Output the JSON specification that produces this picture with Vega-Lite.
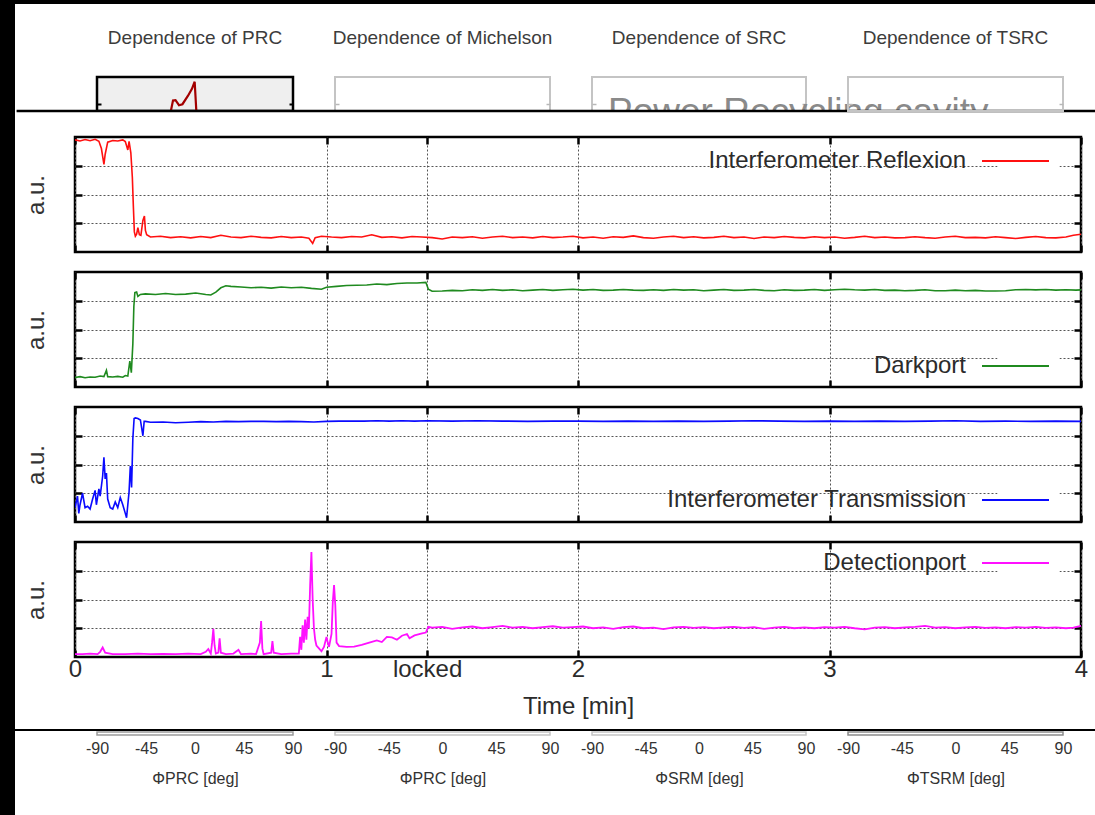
{
  "$schema": "https://vega.github.io/schema/vega-lite/v6.json",
  "padding": 0,
  "background": "#ffffff",
  "spacing": 0,
  "config": {
    "font": "Liberation Sans",
    "view": {"stroke": null},
    "axis": {"labelFont": "Liberation Sans", "titleFont": "Liberation Sans", "titleFontWeight": "normal"},
    "title": {"font": "Liberation Sans", "fontSize": 19, "fontWeight": "normal", "color": "#3c3c3c", "baseline": "bottom", "offset": 29, "anchor": "middle", "frame": "group"},
    "legend": {"labelFont": "Liberation Sans", "labelFontSize": 24, "labelColor": "#2b2b2b", "labelLimit": 500, "labelAlign": "right", "labelOffset": -61.5, "symbolType": "M-6.7,0H6.7", "symbolSize": 100, "symbolStrokeWidth": 2, "fillColor": "#ffffff", "padding": 6, "orient": "none"}
  },
  "datasets": {
    "prc": [
      {"phi": -40, "v": -0.5}, {"phi": -22.5, "v": -0.05}, {"phi": -20.2, "v": 0.31}, {"phi": -17.9, "v": 0.32},
      {"phi": -14.7, "v": 0.17}, {"phi": -11.5, "v": 0.2}, {"phi": -6.4, "v": 0.45}, {"phi": -2.8, "v": 0.65},
      {"phi": -0.3, "v": 0.86}, {"phi": 1.4, "v": -0.1}, {"phi": 9, "v": -0.5}
    ],
    "refl": [
      {"t":0,"v":3.9},{"t":0.02,"v":3.86},{"t":0.04,"v":3.91},{"t":0.06,"v":3.87},{"t":0.08,"v":3.92},{"t":0.095,"v":3.85},
      {"t":0.105,"v":3.6},{"t":0.115,"v":3.05},{"t":0.12,"v":3.4},{"t":0.13,"v":3.82},{"t":0.15,"v":3.88},{"t":0.17,"v":3.86},
      {"t":0.19,"v":3.9},{"t":0.2,"v":3.84},{"t":0.21,"v":3.55},{"t":0.215,"v":3.85},{"t":0.222,"v":3.45},{"t":0.228,"v":2.6},
      {"t":0.232,"v":1.6},{"t":0.236,"v":0.7},{"t":0.24,"v":0.55},{"t":0.245,"v":0.62},{"t":0.25,"v":0.85},{"t":0.256,"v":0.6},
      {"t":0.262,"v":0.58},{"t":0.27,"v":1.1},{"t":0.276,"v":1.25},{"t":0.28,"v":0.75},{"t":0.285,"v":0.6},{"t":0.3,"v":0.52},
      {"t":0.34,"v":0.55},{"t":0.38,"v":0.5},{"t":0.42,"v":0.53},{"t":0.46,"v":0.49},{"t":0.5,"v":0.54},{"t":0.54,"v":0.5},
      {"t":0.58,"v":0.58},{"t":0.62,"v":0.52},{"t":0.66,"v":0.5},{"t":0.7,"v":0.55},{"t":0.74,"v":0.51},{"t":0.78,"v":0.49},
      {"t":0.82,"v":0.54},{"t":0.86,"v":0.5},{"t":0.9,"v":0.52},{"t":0.93,"v":0.48},{"t":0.945,"v":0.3},{"t":0.955,"v":0.5},
      {"t":0.98,"v":0.55},{"t":1.02,"v":0.52},{"t":1.06,"v":0.5},{"t":1.1,"v":0.54},{"t":1.14,"v":0.52},{"t":1.18,"v":0.6},
      {"t":1.22,"v":0.51},{"t":1.26,"v":0.53},{"t":1.3,"v":0.49},{"t":1.34,"v":0.54},{"t":1.38,"v":0.52},{"t":1.42,"v":0.5},
      {"t":1.46,"v":0.45},{"t":1.5,"v":0.52},{"t":1.54,"v":0.5},{"t":1.58,"v":0.53},{"t":1.62,"v":0.48},{"t":1.66,"v":0.52},
      {"t":1.7,"v":0.55},{"t":1.74,"v":0.5},{"t":1.78,"v":0.52},{"t":1.82,"v":0.49},{"t":1.86,"v":0.54},{"t":1.9,"v":0.5},
      {"t":1.94,"v":0.52},{"t":1.98,"v":0.55},{"t":2.02,"v":0.49},{"t":2.06,"v":0.52},{"t":2.1,"v":0.48},{"t":2.14,"v":0.53},
      {"t":2.18,"v":0.51},{"t":2.22,"v":0.56},{"t":2.26,"v":0.5},{"t":2.3,"v":0.48},{"t":2.34,"v":0.52},{"t":2.38,"v":0.55},
      {"t":2.42,"v":0.5},{"t":2.46,"v":0.53},{"t":2.5,"v":0.49},{"t":2.54,"v":0.51},{"t":2.58,"v":0.55},{"t":2.62,"v":0.5},
      {"t":2.66,"v":0.52},{"t":2.7,"v":0.47},{"t":2.74,"v":0.52},{"t":2.78,"v":0.5},{"t":2.82,"v":0.54},{"t":2.86,"v":0.51},
      {"t":2.9,"v":0.49},{"t":2.94,"v":0.53},{"t":2.98,"v":0.5},{"t":3.02,"v":0.52},{"t":3.06,"v":0.48},{"t":3.1,"v":0.51},
      {"t":3.14,"v":0.55},{"t":3.18,"v":0.5},{"t":3.22,"v":0.52},{"t":3.26,"v":0.49},{"t":3.3,"v":0.5},{"t":3.34,"v":0.53},
      {"t":3.38,"v":0.5},{"t":3.42,"v":0.48},{"t":3.46,"v":0.52},{"t":3.5,"v":0.55},{"t":3.54,"v":0.5},{"t":3.58,"v":0.51},
      {"t":3.62,"v":0.49},{"t":3.66,"v":0.53},{"t":3.7,"v":0.5},{"t":3.74,"v":0.47},{"t":3.78,"v":0.51},{"t":3.82,"v":0.54},
      {"t":3.86,"v":0.5},{"t":3.9,"v":0.49},{"t":3.94,"v":0.52},{"t":3.97,"v":0.58},{"t":4.0,"v":0.62}
    ],
    "dark": [
      {"t":0,"v":0.33},{"t":0.02,"v":0.36},{"t":0.04,"v":0.32},{"t":0.06,"v":0.35},{"t":0.08,"v":0.34},{"t":0.1,"v":0.38},
      {"t":0.115,"v":0.36},{"t":0.125,"v":0.58},{"t":0.13,"v":0.36},{"t":0.15,"v":0.35},{"t":0.17,"v":0.37},{"t":0.19,"v":0.34},
      {"t":0.2,"v":0.4},{"t":0.21,"v":0.38},{"t":0.218,"v":0.9},{"t":0.224,"v":0.5},{"t":0.23,"v":1.5},{"t":0.234,"v":2.8},
      {"t":0.238,"v":3.28},{"t":0.245,"v":3.3},{"t":0.25,"v":3.15},{"t":0.26,"v":3.22},{"t":0.28,"v":3.24},{"t":0.32,"v":3.22},
      {"t":0.36,"v":3.25},{"t":0.4,"v":3.22},{"t":0.44,"v":3.23},{"t":0.48,"v":3.27},{"t":0.52,"v":3.22},{"t":0.54,"v":3.2},
      {"t":0.56,"v":3.3},{"t":0.58,"v":3.45},{"t":0.6,"v":3.52},{"t":0.62,"v":3.5},{"t":0.66,"v":3.48},{"t":0.7,"v":3.45},
      {"t":0.74,"v":3.47},{"t":0.78,"v":3.44},{"t":0.82,"v":3.48},{"t":0.86,"v":3.45},{"t":0.9,"v":3.47},{"t":0.94,"v":3.43},
      {"t":0.98,"v":3.4},{"t":1.0,"v":3.47},{"t":1.04,"v":3.5},{"t":1.08,"v":3.53},{"t":1.12,"v":3.54},{"t":1.16,"v":3.55},
      {"t":1.2,"v":3.58},{"t":1.24,"v":3.56},{"t":1.28,"v":3.6},{"t":1.32,"v":3.62},{"t":1.36,"v":3.62},{"t":1.395,"v":3.64},
      {"t":1.405,"v":3.4},{"t":1.42,"v":3.33},{"t":1.46,"v":3.34},{"t":1.5,"v":3.36},{"t":1.54,"v":3.35},{"t":1.58,"v":3.38},
      {"t":1.62,"v":3.36},{"t":1.66,"v":3.39},{"t":1.7,"v":3.36},{"t":1.74,"v":3.38},{"t":1.78,"v":3.35},{"t":1.82,"v":3.37},
      {"t":1.86,"v":3.39},{"t":1.9,"v":3.36},{"t":1.94,"v":3.38},{"t":1.98,"v":3.4},{"t":2.02,"v":3.37},{"t":2.06,"v":3.39},
      {"t":2.1,"v":3.36},{"t":2.14,"v":3.37},{"t":2.18,"v":3.39},{"t":2.22,"v":3.37},{"t":2.26,"v":3.36},{"t":2.3,"v":3.38},
      {"t":2.34,"v":3.36},{"t":2.38,"v":3.39},{"t":2.42,"v":3.37},{"t":2.46,"v":3.38},{"t":2.5,"v":3.35},{"t":2.54,"v":3.37},
      {"t":2.58,"v":3.39},{"t":2.62,"v":3.36},{"t":2.66,"v":3.37},{"t":2.7,"v":3.39},{"t":2.74,"v":3.36},{"t":2.78,"v":3.35},
      {"t":2.82,"v":3.38},{"t":2.86,"v":3.36},{"t":2.9,"v":3.37},{"t":2.94,"v":3.39},{"t":2.98,"v":3.36},{"t":3.02,"v":3.38},
      {"t":3.06,"v":3.4},{"t":3.1,"v":3.38},{"t":3.14,"v":3.37},{"t":3.18,"v":3.39},{"t":3.22,"v":3.36},{"t":3.26,"v":3.37},
      {"t":3.3,"v":3.35},{"t":3.34,"v":3.36},{"t":3.38,"v":3.38},{"t":3.42,"v":3.35},{"t":3.46,"v":3.35},{"t":3.5,"v":3.37},
      {"t":3.54,"v":3.35},{"t":3.58,"v":3.36},{"t":3.62,"v":3.34},{"t":3.66,"v":3.34},{"t":3.7,"v":3.35},{"t":3.74,"v":3.38},
      {"t":3.78,"v":3.39},{"t":3.82,"v":3.38},{"t":3.86,"v":3.39},{"t":3.9,"v":3.37},{"t":3.94,"v":3.38},{"t":3.98,"v":3.37},
      {"t":4.0,"v":3.38}
    ],
    "trans": [
      {"t":0,"v":0.5},{"t":0.01,"v":0.9},{"t":0.015,"v":0.3},{"t":0.02,"v":0.6},{"t":0.03,"v":1.0},{"t":0.04,"v":0.5},
      {"t":0.05,"v":0.55},{"t":0.06,"v":0.45},{"t":0.07,"v":0.8},{"t":0.08,"v":1.1},{"t":0.085,"v":0.6},{"t":0.095,"v":1.15},
      {"t":0.1,"v":0.9},{"t":0.11,"v":1.6},{"t":0.115,"v":2.25},{"t":0.12,"v":1.5},{"t":0.125,"v":1.7},{"t":0.13,"v":0.8},
      {"t":0.14,"v":0.5},{"t":0.15,"v":0.45},{"t":0.16,"v":0.7},{"t":0.17,"v":0.5},{"t":0.18,"v":0.85},{"t":0.19,"v":0.6},
      {"t":0.2,"v":0.3},{"t":0.205,"v":0.15},{"t":0.21,"v":0.6},{"t":0.215,"v":1.05},{"t":0.22,"v":1.95},{"t":0.225,"v":1.2},
      {"t":0.23,"v":2.9},{"t":0.235,"v":3.6},{"t":0.24,"v":3.62},{"t":0.25,"v":3.6},{"t":0.26,"v":3.55},{"t":0.27,"v":3.0},
      {"t":0.275,"v":3.5},{"t":0.28,"v":3.5},{"t":0.3,"v":3.47},{"t":0.35,"v":3.48},{"t":0.4,"v":3.45},{"t":0.45,"v":3.47},
      {"t":0.5,"v":3.49},{"t":0.55,"v":3.48},{"t":0.6,"v":3.5},{"t":0.65,"v":3.49},{"t":0.7,"v":3.5},{"t":0.75,"v":3.5},
      {"t":0.8,"v":3.49},{"t":0.85,"v":3.5},{"t":0.9,"v":3.49},{"t":0.95,"v":3.48},{"t":1.0,"v":3.5},{"t":1.05,"v":3.51},
      {"t":1.1,"v":3.51},{"t":1.15,"v":3.51},{"t":1.2,"v":3.52},{"t":1.25,"v":3.51},{"t":1.3,"v":3.52},{"t":1.35,"v":3.51},
      {"t":1.4,"v":3.52},{"t":1.5,"v":3.51},{"t":1.6,"v":3.52},{"t":1.7,"v":3.51},{"t":1.8,"v":3.5},{"t":1.9,"v":3.51},
      {"t":2.0,"v":3.51},{"t":2.1,"v":3.5},{"t":2.2,"v":3.51},{"t":2.3,"v":3.5},{"t":2.4,"v":3.51},{"t":2.5,"v":3.5},
      {"t":2.6,"v":3.51},{"t":2.7,"v":3.52},{"t":2.8,"v":3.51},{"t":2.9,"v":3.5},{"t":3.0,"v":3.51},{"t":3.1,"v":3.5},
      {"t":3.2,"v":3.51},{"t":3.3,"v":3.5},{"t":3.4,"v":3.51},{"t":3.5,"v":3.52},{"t":3.6,"v":3.5},{"t":3.7,"v":3.51},
      {"t":3.8,"v":3.5},{"t":3.9,"v":3.51},{"t":4.0,"v":3.5}
    ],
    "det": [
      {"t":0,"v":0.1},{"t":0.03,"v":0.1},{"t":0.06,"v":0.12},{"t":0.09,"v":0.1},{"t":0.1,"v":0.18},{"t":0.11,"v":0.33},
      {"t":0.12,"v":0.15},{"t":0.15,"v":0.1},{"t":0.2,"v":0.1},{"t":0.25,"v":0.12},{"t":0.3,"v":0.1},{"t":0.35,"v":0.11},
      {"t":0.4,"v":0.1},{"t":0.45,"v":0.12},{"t":0.5,"v":0.1},{"t":0.52,"v":0.18},{"t":0.53,"v":0.28},{"t":0.54,"v":0.12},
      {"t":0.545,"v":0.5},{"t":0.55,"v":0.98},{"t":0.555,"v":0.4},{"t":0.56,"v":0.12},{"t":0.57,"v":0.15},{"t":0.575,"v":0.65},
      {"t":0.58,"v":0.15},{"t":0.6,"v":0.1},{"t":0.63,"v":0.12},{"t":0.65,"v":0.25},{"t":0.66,"v":0.1},{"t":0.7,"v":0.12},
      {"t":0.72,"v":0.1},{"t":0.735,"v":0.5},{"t":0.74,"v":1.25},{"t":0.745,"v":0.3},{"t":0.75,"v":0.1},{"t":0.78,"v":0.15},
      {"t":0.785,"v":0.55},{"t":0.79,"v":0.15},{"t":0.82,"v":0.1},{"t":0.86,"v":0.12},{"t":0.89,"v":0.12},{"t":0.895,"v":0.7},
      {"t":0.9,"v":0.25},{"t":0.905,"v":1.1},{"t":0.91,"v":0.5},{"t":0.915,"v":1.3},{"t":0.92,"v":0.6},{"t":0.925,"v":1.4},
      {"t":0.93,"v":1.0},{"t":0.935,"v":2.5},{"t":0.94,"v":3.65},{"t":0.945,"v":2.0},{"t":0.95,"v":1.0},{"t":0.955,"v":0.6},
      {"t":0.96,"v":0.4},{"t":0.97,"v":0.3},{"t":0.98,"v":0.2},{"t":0.99,"v":0.35},{"t":1.0,"v":0.7},{"t":1.005,"v":0.5},
      {"t":1.01,"v":0.35},{"t":1.02,"v":0.8},{"t":1.025,"v":1.9},{"t":1.03,"v":2.5},{"t":1.035,"v":1.8},{"t":1.04,"v":0.5},
      {"t":1.05,"v":0.38},{"t":1.08,"v":0.35},{"t":1.11,"v":0.36},{"t":1.14,"v":0.42},{"t":1.17,"v":0.5},{"t":1.2,"v":0.58},
      {"t":1.22,"v":0.52},{"t":1.24,"v":0.7},{"t":1.26,"v":0.68},{"t":1.28,"v":0.6},{"t":1.3,"v":0.74},{"t":1.32,"v":0.8},
      {"t":1.33,"v":0.65},{"t":1.35,"v":0.75},{"t":1.38,"v":0.82},{"t":1.395,"v":0.85},{"t":1.405,"v":1.05},{"t":1.42,"v":1.02},
      {"t":1.46,"v":1.05},{"t":1.5,"v":0.98},{"t":1.54,"v":1.03},{"t":1.58,"v":1.06},{"t":1.62,"v":1.0},{"t":1.66,"v":1.04},
      {"t":1.7,"v":1.08},{"t":1.74,"v":1.02},{"t":1.78,"v":1.05},{"t":1.82,"v":1.0},{"t":1.86,"v":1.04},{"t":1.9,"v":1.07},
      {"t":1.94,"v":1.02},{"t":1.98,"v":1.04},{"t":2.02,"v":1.06},{"t":2.06,"v":1.0},{"t":2.1,"v":1.03},{"t":2.14,"v":0.98},
      {"t":2.18,"v":1.04},{"t":2.22,"v":1.06},{"t":2.26,"v":1.0},{"t":2.3,"v":1.02},{"t":2.34,"v":0.97},{"t":2.38,"v":1.03},
      {"t":2.42,"v":1.05},{"t":2.46,"v":1.01},{"t":2.5,"v":1.04},{"t":2.54,"v":1.0},{"t":2.58,"v":1.03},{"t":2.62,"v":1.05},
      {"t":2.66,"v":1.01},{"t":2.7,"v":1.04},{"t":2.74,"v":0.98},{"t":2.78,"v":1.02},{"t":2.82,"v":1.05},{"t":2.86,"v":1.0},
      {"t":2.9,"v":1.03},{"t":2.94,"v":1.0},{"t":2.98,"v":1.04},{"t":3.02,"v":1.02},{"t":3.06,"v":1.05},{"t":3.1,"v":1.0},
      {"t":3.14,"v":0.96},{"t":3.18,"v":1.02},{"t":3.22,"v":1.04},{"t":3.26,"v":1.0},{"t":3.3,"v":1.03},{"t":3.34,"v":1.05},
      {"t":3.38,"v":1.08},{"t":3.42,"v":1.02},{"t":3.46,"v":1.04},{"t":3.5,"v":1.0},{"t":3.54,"v":1.03},{"t":3.58,"v":1.05},
      {"t":3.62,"v":1.01},{"t":3.66,"v":1.03},{"t":3.7,"v":1.0},{"t":3.74,"v":1.04},{"t":3.78,"v":1.02},{"t":3.82,"v":1.05},
      {"t":3.86,"v":1.01},{"t":3.9,"v":1.03},{"t":3.94,"v":1.0},{"t":3.97,"v":1.02},{"t":4.0,"v":1.08}
    ]
  },
  "hconcat": [
    {"width": 15, "height": 815, "data": {"values": [{}]}, "mark": {"type": "rect", "color": "#000000"}, "view": {"fill": "#000000", "stroke": null}},
    {
      "spacing": 0,
      "vconcat": [
        {"width": 1080, "height": 4, "data": {"values": [{}]}, "mark": {"type": "rect", "color": "#000000"}, "view": {"fill": "#000000", "stroke": null}},
        {"width": 10, "height": 23, "data": {"values": [{}]}, "mark": {"type": "rect", "opacity": 0}},
        {
          "spacing": 42,
          "bounds": "flush",
          "hconcat": [
            {"width": 40, "height": 34, "data": {"values": [{}]}, "mark": {"type": "rect", "opacity": 0}},
            {
              "width": 196, "height": 34,
              "title": {"text": "Dependence of PRC"},
              "view": {"fill": "#efefef", "stroke": "#000000", "strokeWidth": 2.5},
              "data": {"name": "prc"},
              "layer": [
                {
                  "mark": {"type": "line", "color": "#a30000", "strokeWidth": 2.2, "clip": true},
                  "encoding": {
                    "x": {"field": "phi", "type": "quantitative", "scale": {"domain": [-90, 90], "nice": false},
                          "axis": {"orient": "top", "values": [-90, -45, 0, 45, 90], "labels": false, "title": null, "domain": false, "grid": false, "tickSize": -4, "tickWidth": 2, "tickColor": "#000000"}},
                    "y": {"field": "v", "type": "quantitative", "scale": {"domain": [0, 1], "nice": false, "zero": false},
                          "axis": {"values": [0.22], "labels": false, "title": null, "domain": false, "grid": false, "tickSize": -4, "tickWidth": 2, "tickColor": "#000000"}}
                  }
                },
                {
                  "mark": {"type": "line", "strokeOpacity": 0},
                  "encoding": {
                    "x": {"field": "phi", "type": "quantitative", "axis": null},
                    "y": {"field": "v", "type": "quantitative", "axis": {"orient": "right", "values": [0.22], "labels": false, "title": null, "domain": false, "grid": false, "tickSize": -4, "tickWidth": 2, "tickColor": "#000000"}}
                  }
                }
              ],
              "resolve": {"axis": {"y": "independent"}}
            },
            {
              "width": 215, "height": 34,
              "title": {"text": "Dependence of Michelson"},
              "view": {"stroke": "#c4c4c4", "strokeWidth": 2},
              "data": {"values": []},
              "layer": [
                {
                  "mark": {"type": "line"},
                  "encoding": {
                    "x": {"field": "phi", "type": "quantitative", "scale": {"domain": [-90, 90], "nice": false},
                          "axis": {"orient": "top", "values": [-45, 0, 45], "labels": false, "title": null, "domain": false, "grid": false, "tickSize": -4, "tickWidth": 1.5, "tickColor": "#b8b8b8"}},
                    "y": {"field": "v", "type": "quantitative", "scale": {"domain": [0, 1], "nice": false, "zero": false},
                          "axis": {"values": [0.22], "labels": false, "title": null, "domain": false, "grid": false, "tickSize": -4, "tickWidth": 1.5, "tickColor": "#b8b8b8"}}
                  }
                },
                {
                  "mark": {"type": "line"},
                  "encoding": {
                    "x": {"field": "phi", "type": "quantitative", "axis": null},
                    "y": {"field": "v", "type": "quantitative", "axis": {"orient": "right", "values": [0.22], "labels": false, "title": null, "domain": false, "grid": false, "tickSize": -4, "tickWidth": 1.5, "tickColor": "#b8b8b8"}}
                  }
                }
              ],
              "resolve": {"axis": {"y": "independent"}}
            },
            {
              "width": 214, "height": 34,
              "title": {"text": "Dependence of SRC"},
              "view": {"stroke": "#c4c4c4", "strokeWidth": 2},
              "data": {"values": []},
              "layer": [
                {
                  "mark": {"type": "line"},
                  "encoding": {
                    "x": {"field": "phi", "type": "quantitative", "scale": {"domain": [-90, 90], "nice": false},
                          "axis": {"orient": "top", "values": [-45, 0, 45], "labels": false, "title": null, "domain": false, "grid": false, "tickSize": -4, "tickWidth": 1.5, "tickColor": "#b8b8b8"}},
                    "y": {"field": "v", "type": "quantitative", "scale": {"domain": [0, 1], "nice": false, "zero": false},
                          "axis": {"values": [0.22], "labels": false, "title": null, "domain": false, "grid": false, "tickSize": -4, "tickWidth": 1.5, "tickColor": "#b8b8b8"}}
                  }
                },
                {
                  "mark": {"type": "line"},
                  "encoding": {
                    "x": {"field": "phi", "type": "quantitative", "axis": null},
                    "y": {"field": "v", "type": "quantitative", "axis": {"orient": "right", "values": [0.22], "labels": false, "title": null, "domain": false, "grid": false, "tickSize": -4, "tickWidth": 1.5, "tickColor": "#b8b8b8"}}
                  }
                },
                {
                  "data": {"values": [{}]},
                  "mark": {"type": "text", "text": "Power Recycling cavity", "fontSize": 37, "color": "#8a8a8a", "align": "left", "baseline": "alphabetic"},
                  "encoding": {"x": {"datum": -76.5, "axis": null}, "y": {"datum": -0.39, "axis": null}}
                },
                {
                  "data": {"values": [{}]},
                  "mark": {"type": "rect", "color": "#ffffff"},
                  "encoding": {"x": {"datum": -574.0, "axis": null}, "x2": {"datum": 333.9}, "y": {"datum": -0.03, "axis": null}, "y2": {"datum": -0.63}}
                },
                {
                  "data": {"values": [{}]},
                  "mark": {"type": "rect", "color": "#000000"},
                  "encoding": {"x": {"datum": -574.0, "axis": null}, "x2": {"datum": 333.9}, "y": {"datum": 0.037, "axis": null}, "y2": {"datum": -0.037}}
                }
              ],
              "resolve": {"axis": {"y": "independent"}}
            },
            {
              "width": 215, "height": 34,
              "title": {"text": "Dependence of TSRC"},
              "view": {"stroke": "#c4c4c4", "strokeWidth": 2},
              "data": {"values": []},
              "layer": [
                {
                  "mark": {"type": "line"},
                  "encoding": {
                    "x": {"field": "phi", "type": "quantitative", "scale": {"domain": [-90, 90], "nice": false},
                          "axis": {"orient": "top", "values": [-45, 0, 45], "labels": false, "title": null, "domain": false, "grid": false, "tickSize": -4, "tickWidth": 1.5, "tickColor": "#b8b8b8"}},
                    "y": {"field": "v", "type": "quantitative", "scale": {"domain": [0, 1], "nice": false, "zero": false},
                          "axis": {"values": [0.22], "labels": false, "title": null, "domain": false, "grid": false, "tickSize": -4, "tickWidth": 1.5, "tickColor": "#b8b8b8"}}
                  }
                },
                {
                  "mark": {"type": "line"},
                  "encoding": {
                    "x": {"field": "phi", "type": "quantitative", "axis": null},
                    "y": {"field": "v", "type": "quantitative", "axis": {"orient": "right", "values": [0.22], "labels": false, "title": null, "domain": false, "grid": false, "tickSize": -4, "tickWidth": 1.5, "tickColor": "#b8b8b8"}}
                  }
                }
              ],
              "resolve": {"axis": {"y": "independent"}}
            }
          ]
        },
        {
          "spacing": 0,
          "hconcat": [
            {"width": 8, "height": 10, "data": {"values": [{}]}, "mark": {"type": "rect", "opacity": 0}},
            {
              "spacing": 20,
              "bounds": "flush",
              "resolve": {"scale": {"color": "independent"}},
              "vconcat": [
                {
                  "width": 1006, "height": 115,
                  "view": {"stroke": "#000000", "strokeWidth": 2.5},
                  "data": {"name": "refl"},
                  "layer": [
                    {
                      "mark": {"type": "line", "strokeWidth": 1.6, "clip": true},
                      "encoding": {
                        "x": {"field": "t", "type": "quantitative", "scale": {"domain": [0, 4], "nice": false},
                              "axis": {"orient": "bottom", "values": [0, 1, 1.4, 2, 3, 4], "labels": false, "title": null, "domain": false, "tickSize": -7, "tickWidth": 2.5, "tickColor": "#000000", "grid": true, "gridDash": [2, 2], "gridColor": "#555555", "gridWidth": 1}},
                        "y": {"field": "v", "type": "quantitative", "scale": {"domain": [0, 4], "nice": false},
                              "axis": {"values": [1, 2, 3], "labels": false, "title": "a.u.", "titleFontSize": 24, "titleColor": "#333333", "titlePadding": 25, "domain": false, "tickSize": -7, "tickWidth": 2.5, "tickColor": "#000000", "grid": true, "gridDash": [2, 2], "gridColor": "#555555", "gridWidth": 1}},
                        "color": {"datum": "Interferometer Reflexion", "scale": {"range": ["#ff1010"]},
                                  "legend": {"title": null, "legendX": 922.5, "legendY": 6}}
                      }
                    },
                    {
                      "mark": {"type": "line", "strokeOpacity": 0},
                      "encoding": {
                        "x": {"field": "t", "type": "quantitative", "axis": {"orient": "top", "values": [0, 1, 1.4, 2, 3, 4], "labels": false, "title": null, "domain": false, "grid": false, "tickSize": -7, "tickWidth": 2.5, "tickColor": "#000000"}},
                        "y": {"field": "v", "type": "quantitative", "axis": {"orient": "right", "values": [1, 2, 3], "labels": false, "title": null, "domain": false, "grid": false, "tickSize": -7, "tickWidth": 2.5, "tickColor": "#000000"}}
                      }
                    }
                  ],
                  "resolve": {"axis": {"x": "independent", "y": "independent"}}
                },
                {
                  "width": 1006, "height": 115,
                  "view": {"stroke": "#000000", "strokeWidth": 2.5},
                  "data": {"name": "dark"},
                  "layer": [
                    {
                      "mark": {"type": "line", "strokeWidth": 1.6, "clip": true},
                      "encoding": {
                        "x": {"field": "t", "type": "quantitative", "scale": {"domain": [0, 4], "nice": false},
                              "axis": {"orient": "bottom", "values": [0, 1, 1.4, 2, 3, 4], "labels": false, "title": null, "domain": false, "tickSize": -7, "tickWidth": 2.5, "tickColor": "#000000", "grid": true, "gridDash": [2, 2], "gridColor": "#555555", "gridWidth": 1}},
                        "y": {"field": "v", "type": "quantitative", "scale": {"domain": [0, 4], "nice": false},
                              "axis": {"values": [1, 2, 3], "labels": false, "title": "a.u.", "titleFontSize": 24, "titleColor": "#333333", "titlePadding": 25, "domain": false, "tickSize": -7, "tickWidth": 2.5, "tickColor": "#000000", "grid": true, "gridDash": [2, 2], "gridColor": "#555555", "gridWidth": 1}},
                        "color": {"datum": "Darkport", "scale": {"range": ["#1f8a1f"]},
                                  "legend": {"title": null, "legendX": 922.5, "legendY": 76}}
                      }
                    },
                    {
                      "mark": {"type": "line", "strokeOpacity": 0},
                      "encoding": {
                        "x": {"field": "t", "type": "quantitative", "axis": {"orient": "top", "values": [0, 1, 1.4, 2, 3, 4], "labels": false, "title": null, "domain": false, "grid": false, "tickSize": -7, "tickWidth": 2.5, "tickColor": "#000000"}},
                        "y": {"field": "v", "type": "quantitative", "axis": {"orient": "right", "values": [1, 2, 3], "labels": false, "title": null, "domain": false, "grid": false, "tickSize": -7, "tickWidth": 2.5, "tickColor": "#000000"}}
                      }
                    }
                  ],
                  "resolve": {"axis": {"x": "independent", "y": "independent"}}
                },
                {
                  "width": 1006, "height": 115,
                  "view": {"stroke": "#000000", "strokeWidth": 2.5},
                  "data": {"name": "trans"},
                  "layer": [
                    {
                      "mark": {"type": "line", "strokeWidth": 1.6, "clip": true},
                      "encoding": {
                        "x": {"field": "t", "type": "quantitative", "scale": {"domain": [0, 4], "nice": false},
                              "axis": {"orient": "bottom", "values": [0, 1, 1.4, 2, 3, 4], "labels": false, "title": null, "domain": false, "tickSize": -7, "tickWidth": 2.5, "tickColor": "#000000", "grid": true, "gridDash": [2, 2], "gridColor": "#555555", "gridWidth": 1}},
                        "y": {"field": "v", "type": "quantitative", "scale": {"domain": [0, 4], "nice": false},
                              "axis": {"values": [1, 2, 3], "labels": false, "title": "a.u.", "titleFontSize": 24, "titleColor": "#333333", "titlePadding": 25, "domain": false, "tickSize": -7, "tickWidth": 2.5, "tickColor": "#000000", "grid": true, "gridDash": [2, 2], "gridColor": "#555555", "gridWidth": 1}},
                        "color": {"datum": "Interferometer Transmission", "scale": {"range": ["#0a0aff"]},
                                  "legend": {"title": null, "legendX": 922.5, "legendY": 75}}
                      }
                    },
                    {
                      "mark": {"type": "line", "strokeOpacity": 0},
                      "encoding": {
                        "x": {"field": "t", "type": "quantitative", "axis": {"orient": "top", "values": [0, 1, 1.4, 2, 3, 4], "labels": false, "title": null, "domain": false, "grid": false, "tickSize": -7, "tickWidth": 2.5, "tickColor": "#000000"}},
                        "y": {"field": "v", "type": "quantitative", "axis": {"orient": "right", "values": [1, 2, 3], "labels": false, "title": null, "domain": false, "grid": false, "tickSize": -7, "tickWidth": 2.5, "tickColor": "#000000"}}
                      }
                    }
                  ],
                  "resolve": {"axis": {"x": "independent", "y": "independent"}}
                },
                {
                  "width": 1006, "height": 115,
                  "view": {"stroke": "#000000", "strokeWidth": 2.5},
                  "data": {"name": "det"},
                  "layer": [
                    {
                      "mark": {"type": "line", "strokeWidth": 1.8, "clip": true},
                      "encoding": {
                        "x": {"field": "t", "type": "quantitative", "scale": {"domain": [0, 4], "nice": false},
                              "axis": {"orient": "bottom", "values": [0, 1, 1.4, 2, 3, 4], "labelExpr": "datum.value == 1.4 ? 'locked' : '' + datum.value", "labelFlush": false, "labelOverlap": false, "labelFontSize": 24, "labelColor": "#2b2b2b", "labelPadding": 7, "title": "Time [min]", "titleFontSize": 24, "titleColor": "#2b2b2b", "titlePadding": 13, "domain": false, "tickSize": -7, "tickWidth": 2.5, "tickColor": "#000000", "grid": true, "gridDash": [2, 2], "gridColor": "#555555", "gridWidth": 1}},
                        "y": {"field": "v", "type": "quantitative", "scale": {"domain": [0, 4], "nice": false},
                              "axis": {"values": [1, 2, 3], "labels": false, "title": "a.u.", "titleFontSize": 24, "titleColor": "#333333", "titlePadding": 25, "domain": false, "tickSize": -7, "tickWidth": 2.5, "tickColor": "#000000", "grid": true, "gridDash": [2, 2], "gridColor": "#555555", "gridWidth": 1}},
                        "color": {"datum": "Detectionport", "scale": {"range": ["#ff10ff"]},
                                  "legend": {"title": null, "legendX": 922.5, "legendY": 3}}
                      }
                    },
                    {
                      "mark": {"type": "line", "strokeOpacity": 0},
                      "encoding": {
                        "x": {"field": "t", "type": "quantitative", "axis": {"orient": "top", "values": [0, 1, 1.4, 2, 3, 4], "labels": false, "title": null, "domain": false, "grid": false, "tickSize": -7, "tickWidth": 2.5, "tickColor": "#000000"}},
                        "y": {"field": "v", "type": "quantitative", "axis": {"orient": "right", "values": [1, 2, 3], "labels": false, "title": null, "domain": false, "grid": false, "tickSize": -7, "tickWidth": 2.5, "tickColor": "#000000"}}
                      }
                    }
                  ],
                  "resolve": {"axis": {"x": "independent", "y": "independent"}}
                }
              ]
            }
          ]
        },
        {"width": 10, "height": 9, "data": {"values": [{}]}, "mark": {"type": "rect", "opacity": 0}},
        {"width": 1080, "height": 2, "data": {"values": [{}]}, "mark": {"type": "rect", "color": "#000000"}, "view": {"fill": "#000000", "stroke": null}},
        {
          "spacing": 42,
          "bounds": "flush",
          "hconcat": [
            {"width": 40, "height": 3, "data": {"values": [{}]}, "mark": {"type": "rect", "opacity": 0}},
            {
              "width": 196, "height": 3,
              "view": {"stroke": "#9a9a9a", "strokeWidth": 1.5},
              "data": {"values": []},
              "mark": "point",
              "encoding": {"x": {"field": "phi", "type": "quantitative", "scale": {"domain": [-90, 90], "nice": false},
                "axis": {"values": [-90, -45, 0, 45, 90], "labelExpr": "'' + datum.value", "ticks": false, "domain": false, "grid": false, "labelFlush": false, "labelFontSize": 16, "labelPadding": 5, "labelColor": "#333333", "title": "ΦPRC [deg]", "titleFontSize": 16, "titlePadding": 14, "titleColor": "#333333"}}}
            },
            {
              "width": 215, "height": 3,
              "view": {"stroke": "#c4c4c4", "strokeWidth": 1.5},
              "data": {"values": []},
              "mark": "point",
              "encoding": {"x": {"field": "phi", "type": "quantitative", "scale": {"domain": [-90, 90], "nice": false},
                "axis": {"values": [-90, -45, 0, 45, 90], "labelExpr": "'' + datum.value", "ticks": false, "domain": false, "grid": false, "labelFlush": false, "labelFontSize": 16, "labelPadding": 5, "labelColor": "#333333", "title": "ΦPRC [deg]", "titleFontSize": 16, "titlePadding": 14, "titleColor": "#333333"}}}
            },
            {
              "width": 214, "height": 3,
              "view": {"stroke": "#c4c4c4", "strokeWidth": 1.5},
              "data": {"values": []},
              "mark": "point",
              "encoding": {"x": {"field": "phi", "type": "quantitative", "scale": {"domain": [-90, 90], "nice": false},
                "axis": {"values": [-90, -45, 0, 45, 90], "labelExpr": "'' + datum.value", "ticks": false, "domain": false, "grid": false, "labelFlush": false, "labelFontSize": 16, "labelPadding": 5, "labelColor": "#333333", "title": "ΦSRM [deg]", "titleFontSize": 16, "titlePadding": 14, "titleColor": "#333333"}}}
            },
            {
              "width": 215, "height": 3,
              "view": {"stroke": "#8a8a8a", "strokeWidth": 1.5},
              "data": {"values": []},
              "mark": "point",
              "encoding": {"x": {"field": "phi", "type": "quantitative", "scale": {"domain": [-90, 90], "nice": false},
                "axis": {"values": [-90, -45, 0, 45, 90], "labelExpr": "'' + datum.value", "ticks": false, "domain": false, "grid": false, "labelFlush": false, "labelFontSize": 16, "labelPadding": 5, "labelColor": "#333333", "title": "ΦTSRM [deg]", "titleFontSize": 16, "titlePadding": 14, "titleColor": "#333333"}}}
            }
          ]
        }
      ]
    }
  ]
}
